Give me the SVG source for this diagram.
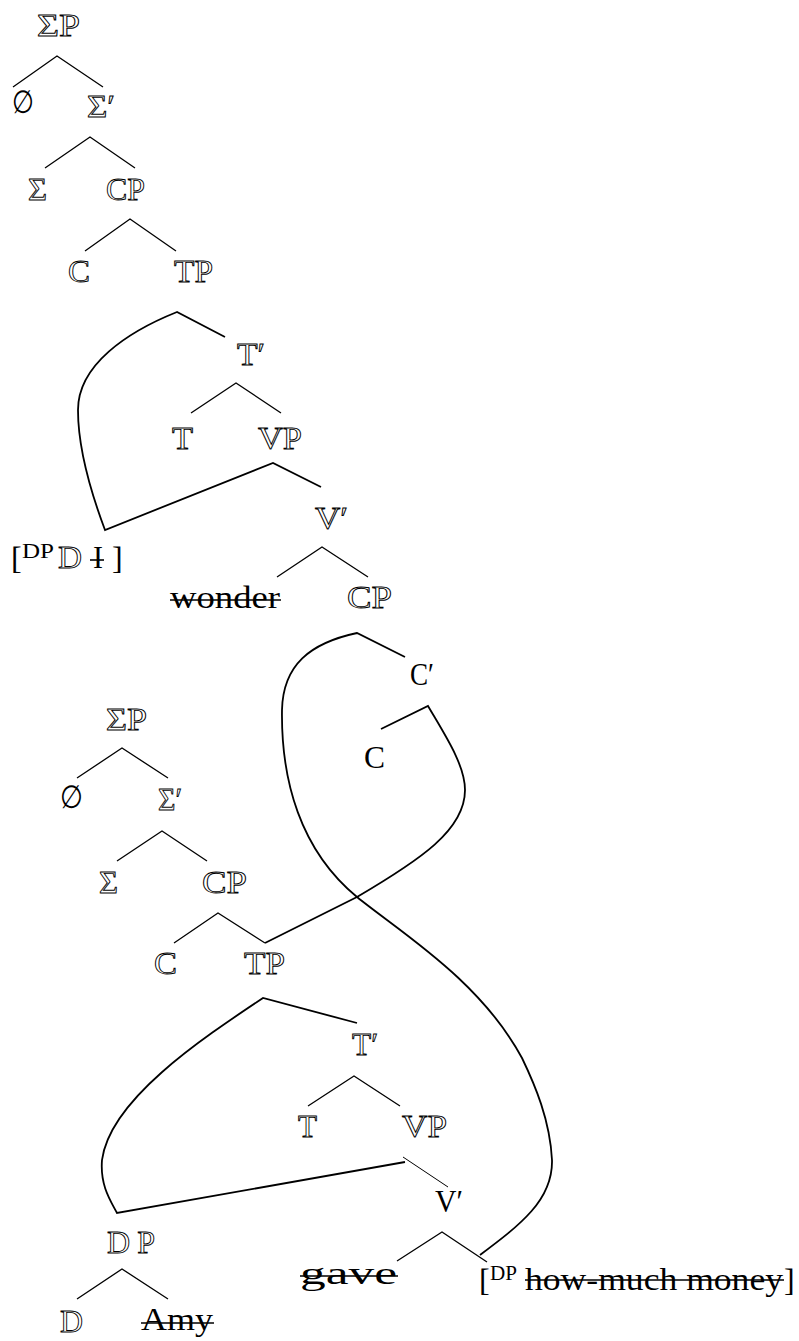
<svg xmlns="http://www.w3.org/2000/svg" width="799" height="1341" viewBox="0 0 799 1341">
<style>
.t{font-family:"Liberation Serif","DejaVu Serif",serif;font-size:32px;fill:#000}
.o{font-family:"Liberation Serif","DejaVu Serif",serif;font-size:32px;fill:#fff;stroke:#000;stroke-width:0.9}
.s{font-family:"Liberation Serif","DejaVu Serif",serif;font-size:20px;fill:#000}
.m{text-anchor:middle}
.br{fill:none;stroke:#000;stroke-width:1.3}
.mv{fill:none;stroke:#000;stroke-width:1.8;stroke-linejoin:miter}
.th{fill:none;stroke:#000;stroke-width:1}
.k{stroke:#000;stroke-width:1.6}
</style>
<rect width="799" height="1341" fill="#fff"/>
<g id="connectors">
<path class="br" d="M13,87 L57,56 L103,87"/>
<path class="br" d="M45,168 L90,137 L135,168"/>
<path class="br" d="M85,251 L130,219 L176,251"/>
<path class="mv" d="M225,337 L177,312 C127,332 78,365 78,410 C78,445 90,490 105,530 L273,463 L321,487"/>
<path class="br" d="M191,413 L236,383 L281,413"/>
<path class="br" d="M277,577 L322,547 L368,577"/>
<path class="mv" d="M405,657 L357,633 C310,643 283,665 282,710 C281,780 300,850 357,897 C400,932 480,980 522,1058 C535,1085 550,1120 552,1160 C553,1200 520,1225 480,1255"/>
<path class="mv" d="M381,729 L428,706 C445,735 465,765 465,790 C465,830 420,860 357,897 L265,943"/>
<path class="br" d="M77,778 L122,748 L168,778"/>
<path class="br" d="M117,861 L162,831 L207,861"/>
<path class="br" d="M174,943 L218,913 L265,943"/>
<path class="mv" d="M357,1023 L263,998 C200,1040 110,1100 102,1160 C100,1185 110,1200 117,1213 L405,1162"/>
<path class="br" d="M308,1106 L354,1076 L400,1106"/>
<path class="th" d="M403,1157 L448,1187"/>
<path class="br" d="M397,1261 L442,1232 L487,1262"/>
<path class="br" d="M77,1299 L122,1269 L168,1299"/>
</g>
<g id="n_SigmaP1"><text class="o" x="37" y="36" textLength="43" lengthAdjust="spacingAndGlyphs">ΣP</text></g>
<g id="n_null1"><text class="t" x="12" y="113" textLength="22" lengthAdjust="spacingAndGlyphs">∅</text></g>
<g id="n_SigmaBar1"><text class="o" x="87" y="117" textLength="28" lengthAdjust="spacingAndGlyphs">Σ′</text></g>
<g id="n_Sigma1"><text class="o" x="28" y="200" textLength="19" lengthAdjust="spacingAndGlyphs">Σ</text></g>
<g id="n_CP1"><text class="o" x="106" y="200" textLength="39" lengthAdjust="spacingAndGlyphs">CP</text></g>
<g id="n_C1"><text class="o" x="68" y="282" textLength="22" lengthAdjust="spacingAndGlyphs">C</text></g>
<g id="n_TP1"><text class="o" x="174" y="282" textLength="39" lengthAdjust="spacingAndGlyphs">TP</text></g>
<g id="n_TBar1"><text class="o" x="237" y="365" textLength="28" lengthAdjust="spacingAndGlyphs">T′</text></g>
<g id="n_T1"><text class="o" x="172" y="449" textLength="21" lengthAdjust="spacingAndGlyphs">T</text></g>
<g id="n_VP1"><text class="o" x="258" y="449" textLength="44" lengthAdjust="spacingAndGlyphs">VP</text></g>
<g id="n_VBar1"><text class="o" x="315" y="529" textLength="33" lengthAdjust="spacingAndGlyphs">V′</text></g>
<g id="n_DP_I">
<text class="t" x="11" y="569">[</text>
<text class="s" x="22" y="558" textLength="32" lengthAdjust="spacingAndGlyphs">DP</text>
<text class="o" x="58" y="568" textLength="24" lengthAdjust="spacingAndGlyphs">D</text>
<text class="t" x="93" y="568" textLength="10" lengthAdjust="spacingAndGlyphs">I</text>
<line class="k" x1="90" y1="560" x2="104" y2="560"/>
<text class="t" x="112" y="569">]</text>
</g>
<g id="n_wonder"><text class="t" x="170" y="608" textLength="110" lengthAdjust="spacingAndGlyphs">wonder</text><line class="k" x1="170" y1="600" x2="281" y2="600"/></g>
<g id="n_CP2"><text class="o" x="347" y="608" textLength="45" lengthAdjust="spacingAndGlyphs">CP</text></g>
<g id="n_CBar"><text class="t" x="410" y="685" textLength="24" lengthAdjust="spacingAndGlyphs">C′</text></g>
<g id="n_C2"><text class="t" x="364" y="768" textLength="21" lengthAdjust="spacingAndGlyphs">C</text></g>
<g id="n_SigmaP2"><text class="o" x="106" y="730" textLength="41" lengthAdjust="spacingAndGlyphs">ΣP</text></g>
<g id="n_null2"><text class="t" x="60" y="808" textLength="23" lengthAdjust="spacingAndGlyphs">∅</text></g>
<g id="n_SigmaBar2"><text class="o" x="158" y="810" textLength="24" lengthAdjust="spacingAndGlyphs">Σ′</text></g>
<g id="n_Sigma2"><text class="o" x="99" y="893" textLength="19" lengthAdjust="spacingAndGlyphs">Σ</text></g>
<g id="n_CP3"><text class="o" x="202" y="893" textLength="45" lengthAdjust="spacingAndGlyphs">CP</text></g>
<g id="n_C3"><text class="o" x="154" y="974" textLength="23" lengthAdjust="spacingAndGlyphs">C</text></g>
<g id="n_TP2"><text class="o" x="244" y="974" textLength="41" lengthAdjust="spacingAndGlyphs">TP</text></g>
<g id="n_TBar2"><text class="o" x="352" y="1055" textLength="26" lengthAdjust="spacingAndGlyphs">T′</text></g>
<g id="n_T2"><text class="o" x="298" y="1137" textLength="19" lengthAdjust="spacingAndGlyphs">T</text></g>
<g id="n_VP2"><text class="o" x="402" y="1137" textLength="45" lengthAdjust="spacingAndGlyphs">VP</text></g>
<g id="n_VBar2"><text class="t" x="435" y="1212" textLength="28" lengthAdjust="spacingAndGlyphs">V′</text></g>
<g id="n_gave"><text class="t" x="300" y="1284" textLength="97" lengthAdjust="spacingAndGlyphs">gave</text><line class="k" x1="300" y1="1276" x2="398" y2="1276"/></g>
<g id="n_howmuch">
<text class="t" x="479" y="1291">[</text>
<text class="s" x="490" y="1280" textLength="27" lengthAdjust="spacingAndGlyphs">DP</text>
<text class="t" x="525" y="1290" textLength="258" lengthAdjust="spacingAndGlyphs">how-much money</text>
<line class="k" x1="525" y1="1280" x2="784" y2="1280"/>
<text class="t" x="784" y="1291">]</text>
</g>
<g id="n_DP3"><text class="o" x="107" y="1253" textLength="48" lengthAdjust="spacing">DP</text></g>
<g id="n_D3"><text class="o" x="60" y="1332" textLength="23" lengthAdjust="spacingAndGlyphs">D</text></g>
<g id="n_Amy"><text class="t" x="141" y="1330" textLength="72" lengthAdjust="spacingAndGlyphs">Amy</text><line class="k" x1="141" y1="1323" x2="214" y2="1323"/></g>
</svg>
